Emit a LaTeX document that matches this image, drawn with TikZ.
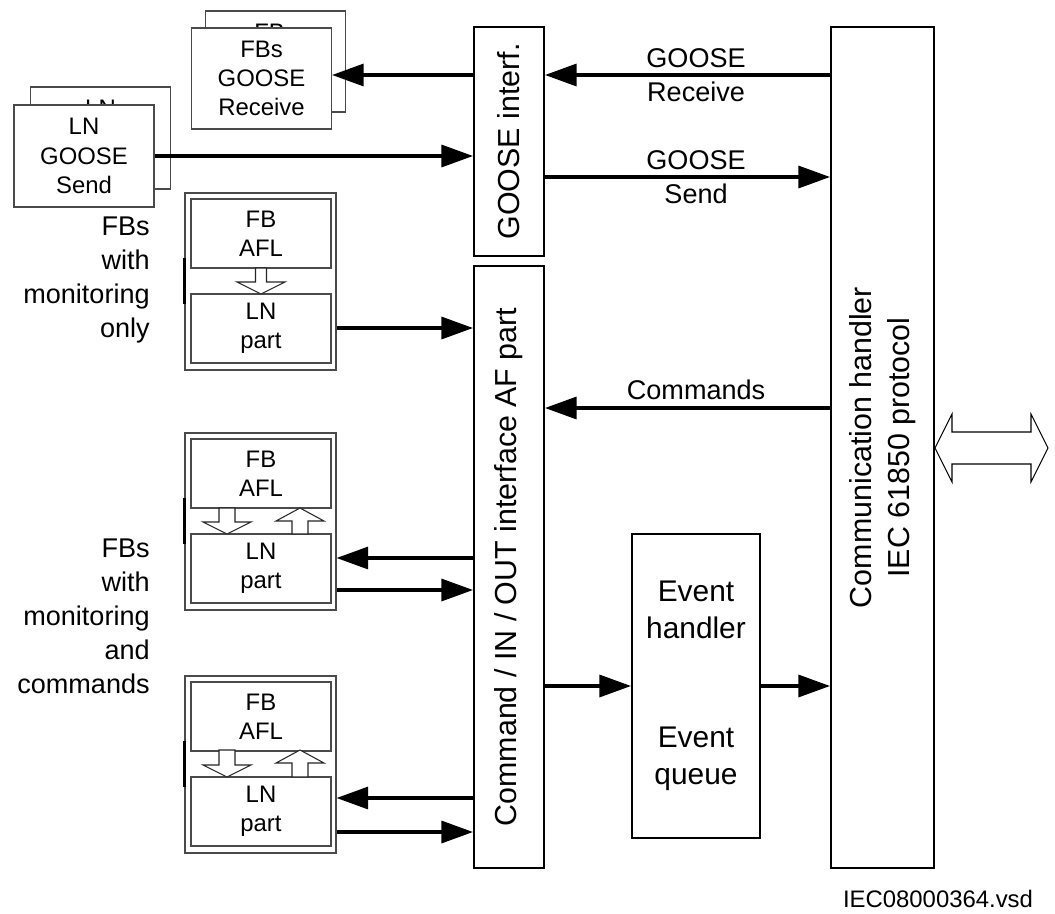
\documentclass[tikz,border=0pt]{standalone}
\usepackage{fontspec}
\setmainfont{Liberation Sans}
\usetikzlibrary{arrows.meta}
\definecolor{FrameGrey}{HTML}{4A4A4A}
\tikzset{mainbox/.style={draw,line width=1.1pt},fbbox/.style={draw=FrameGrey,fill=white,line width=.6pt,minimum width=2.8cm},
link/.style={->,line width=1.9pt},hollow/.style={draw=black!85,fill=white,line width=.6pt,line join=miter},
lbl/.style={font=\fontsize{15.4}{19.3}\selectfont},vtext/.style={rotate=90,font=\fontsize{17.3}{22}\selectfont}}
\begin{document}
\begin{tikzpicture}[x=.02cm,y=-.02cm,>={Triangle[length=18pt,width=12.5pt]},every node/.style={font=\fontsize{13.6}{16.7}\selectfont,align=center,inner sep=0pt}]
\useasboundingbox[fill=white](0,0)rectangle(1055,913);
% interfaces and handlers
\node[mainbox,minimum width=1.4cm,minimum height=4.58cm](goose)at(509,141.5){};\node[vtext](goosetxt)at(goose){GOOSE interf.};
\node[mainbox,minimum width=1.4cm,minimum height=12.04cm](cmd)at(509,567){};\node[vtext](cmdtxt)at(cmd){Command / IN / OUT interface AF part};
\node[mainbox,minimum width=2.06cm,minimum height=16.82cm](comm)at(882.5,447.5){};\node[vtext](commtxt)at(comm){Communication handler\\IEC 61850 protocol};
\node[mainbox,minimum width=2.56cm,minimum height=6.08cm,font=\fontsize{17}{21}\selectfont](evt)at(696,686){Event\\handler\\[1.44cm]Event\\queue};
% GOOSE function blocks
\node[fbbox,minimum height=2.02cm](recvback)at(275.5,61.5){FBs\\GOOSE\\Receive};\node[fbbox,minimum height=2.02cm](recv)at(261.5,78.5){FBs\\GOOSE\\Receive};
\node[fbbox,minimum height=2.04cm](sendback)at(100.5,138){LN\\GOOSE\\Send};\node[fbbox,minimum height=2.04cm](send)at(84,156){LN\\GOOSE\\Send};
% FB groups
\foreach \i/\ty in {1/193,2/433,3/676}{\node[fbbox,minimum width=3.02cm,minimum height=3.54cm](g\i)at(260.5,\ty+88.5){};
\node[fbbox,minimum height=1.38cm](afl\i)at(261,\ty+40.5){FB\\AFL};\node[fbbox,minimum height=1.38cm](ln\i)at(261,\ty+135.5){LN\\part};
\draw[line width=1.4pt](g\i.west|-0,\ty+65)--(g\i.west|-0,\ty+111);}
\foreach \x/\ya/\yb/\w in {261/268/294/5.5,227/508/534/8,227/750/777/8}{\draw[hollow](\x-\w,\ya)--(\x+\w,\ya)--(\x+\w,\yb-12)--(\x+24,\yb-12)--(\x,\yb)--(\x-24,\yb-12)--(\x-\w,\yb-12)--cycle;}
\foreach \x/\ya/\yb in {300/508/534,300/750/777}{\draw[hollow](\x-8,\yb)--(\x+8,\yb)--(\x+8,\ya+13)--(\x+24,\ya+13)--(\x,\ya)--(\x-24,\ya+13)--(\x-8,\ya+13)--cycle;}
\node[lbl,anchor=east,align=right](mononly)at(150,280){FBs\\with\\monitoring\\only};
\node[lbl,anchor=east,align=right](moncmd)at(150,616){FBs\\with\\monitoring\\and\\commands};
% connections
\draw[link](comm.west|-0,75)--node[lbl,pos=.47](rxlbl){GOOSE\\Receive}(goose.east|-0,75);\draw[link](goose.west|-0,75)--(recv.east|-0,75);
\draw[link](send.east)--(goose.west|-send.east);\draw[link](goose.east|-0,177)--node[lbl,pos=.53](txlbl){GOOSE\\Send}(comm.west|-0,177);
\draw[link](comm.west|-0,408)--node[lbl,pos=.47,above=4pt](cmdlbl){Commands}(cmd.east|-0,408);
\draw[link](g1.east|-0,328)--(cmd.west|-0,328);
\foreach \i/\ya/\yb in {2/558/590,3/798/832}{\draw[link](cmd.west|-0,\ya)--(g\i.east|-0,\ya);\draw[link](g\i.east|-0,\yb)--(cmd.west|-0,\yb);}
\draw[link](cmd.east|-evt.west)--(evt.west);\draw[link](evt.east)--(comm.west|-evt.east);
\draw[hollow,draw=black](935,448)--(952,414)--(952,432)--(1031,432)--(1031,414)--(1048,448)--(1031,482)--(1031,464)--(952,464)--(952,482)--cycle;
\node(fileid)at(938,899){IEC08000364.vsd};
\end{tikzpicture}
\end{document}
